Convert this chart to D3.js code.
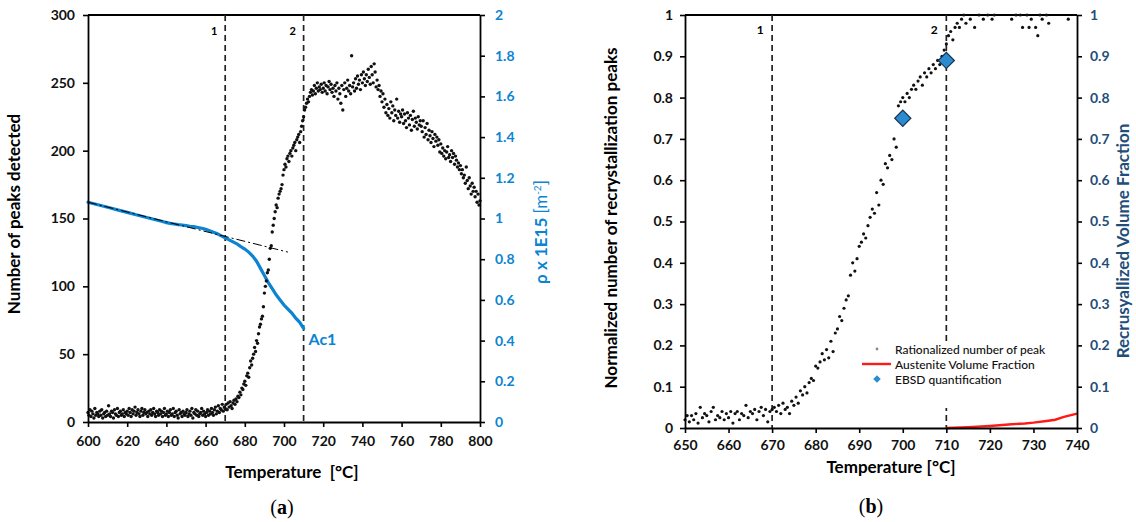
<!DOCTYPE html>
<html>
<head>
<meta charset="utf-8">
<script src="https://cdn.jsdelivr.net/npm/d3@7"></script>
<style>
  body { margin: 0; background: #fff; }
  text { font-family: Lato, "Open Sans", sans-serif; }
</style>
</head>
<body>
<div class="fig"></div>
<script>
// ---- panel (a) data ----
var peaksStart = 600, peaksStep = 0.5;
var peaksA = [
  7,5,9,4,8,6,3,10,5,7,6,4,8,5,9,3,6,7,4,8,
  5,12,6,4,8,7,3,9,6,5,10,4,7,8,5,6,9,4,7,6,
  8,5,10,7,4,9,6,8,11,5,7,9,6,4,8,10,5,7,9,6,
  7,4,8,6,9,5,7,10,6,4,8,7,5,9,6,8,4,7,10,5,
  6,8,4,7,9,5,6,10,4,7,8,5,3,9,6,7,4,8,6,5,
  7,9,4,6,8,5,10,3,7,6,9,5,8,4,6,7,10,5,8,6,
  4,7,9,5,8,6,10,7,5,9,11,6,8,12,7,10,9,13,8,11,
  10,13,9,14,11,15,12,10,14,16,13,17,15,19,18,22,20,25,24,28,
  30,27,34,36,33,40,45,42,47,50,55,52,60,58,65,70,72,76,78,85,
  95,100,104,110,112,120,128,130,140,145,150,155,160,158,165,168,170,172,175,182,
  186,190,188,194,196,192,198,200,196,202,204,206,200,208,210,212,206,214,218,222,
  225,230,232,235,238,236,240,243,245,241,244,248,242,246,250,244,247,245,249,243,
  246,250,244,248,242,247,251,245,249,243,246,240,248,244,250,238,246,242,235,248,
  230,245,250,240,246,252,244,248,242,270,247,250,244,253,246,255,249,252,245,256,
  250,258,253,248,256,251,260,254,249,262,256,250,264,258,247,252,245,248,240,244,
  236,242,232,238,228,234,226,231,224,236,228,233,222,230,226,238,224,229,221,227,
  225,230,220,227,222,217,228,224,219,226,215,223,229,218,224,221,216,225,219,222,
  218,214,222,210,217,212,220,208,215,211,206,214,209,203,212,207,210,204,208,199,
  205,198,202,196,200,194,199,203,195,197,192,200,195,198,190,196,193,188,191,186,
  189,183,186,180,182,176,188,178,172,180,174,168,176,170,173,166,170,162,168,160,
  163
];
var rhoTemp = [600,602,604,606,608,610,612,614,616,618,620,622,624,626,628,630,632,634,636,638,
  640,642,644,646,648,650,652,654,656,658,660,662,664,666,668,670,672,674,676,678,
  680,682,684,686,688,690,692,694,696,698,700,702,704,706,708,710];
var rhoA = [1.08,1.075,1.07,1.065,1.06,1.055,1.05,1.045,1.04,1.035,1.03,1.025,1.02,1.015,1.01,1.005,1.0,0.995,0.99,0.985,
  0.98,0.976,0.973,0.97,0.968,0.965,0.962,0.96,0.956,0.952,0.947,0.94,0.932,0.925,0.915,0.905,0.895,0.885,0.875,0.862,
  0.85,0.835,0.815,0.79,0.755,0.72,0.685,0.655,0.625,0.6,0.575,0.555,0.535,0.51,0.49,0.46];
var trendTemp = [600, 702];
var trendRho = [1.08, 0.835];
var xTicksA = [600,620,640,660,680,700,720,740,760,780,800];
var yTicksA = [0,50,100,150,200,250,300];
var rhoTicks = [0,0.2,0.4,0.6,0.8,1,1.2,1.4,1.6,1.8,2];

// ---- panel (b) data ----
var normStart = 650, normStep = 0.5;
var normB = [
  0.02,0.03,0.015,0.03,0.02,0.035,0.012,0.05,0.025,0.035,
  0.03,0.015,0.04,0.05,0.02,0.03,0.025,0.04,0.02,0.035,
  0.025,0.04,0.012,0.035,0.04,0.02,0.035,0.03,0.055,0.025,
  0.04,0.035,0.045,0.02,0.04,0.05,0.03,0.045,0.015,0.04,
  0.045,0.05,0.04,0.055,0.035,0.06,0.045,0.05,0.035,0.065,
  0.055,0.075,0.06,0.09,0.08,0.1,0.085,0.11,0.12,0.115,
  0.15,0.145,0.16,0.18,0.165,0.19,0.17,0.21,0.185,0.23,
  0.24,0.27,0.26,0.29,0.31,0.32,0.37,0.4,0.38,0.41,
  0.44,0.45,0.47,0.46,0.49,0.51,0.53,0.52,0.57,0.54,
  0.6,0.59,0.64,0.63,0.66,0.65,0.7,0.68,0.78,0.79,
  0.8,0.79,0.81,0.8,0.82,0.83,0.82,0.84,0.85,0.83,
  0.86,0.85,0.87,0.86,0.88,0.87,0.89,0.88,0.9,0.915,
  0.93,0.95,0.96,0.94,0.97,0.98,0.97,0.99,1.0,0.98,
  1.01,0.99,1.02,0.97,1.03,1.0,1.02,0.99,1.04,1.0,
  1.02,0.99,1.0,1.03,1.05,1.02,1.04,1.01,1.03,1.06,
  0.99,1.02,1.0,1.03,1.0,0.97,1.04,1.0,0.97,0.99,
  1.03,0.97,0.95,1.0,0.99,1.02,1.0,0.98,1.04,1.02,
  1.05,1.03,1.04,1.06,1.02,1.05,0.99,1.03,1.04,1.02,
  1.05
];
var austTemp = [710,715,720,725,728,730,733,735,737,740];
var austB = [0,0.002,0.005,0.009,0.011,0.013,0.017,0.02,0.027,0.035];
var ebsdTemp = [700,710];
var ebsdB = [0.75,0.89];
var xTicksB = [650,660,670,680,690,700,710,720,730,740];
var yTicksB = [0,0.1,0.2,0.3,0.4,0.5,0.6,0.7,0.8,0.9,1];
var markTemp = [670,710];
var markLabel = ["1","2"];
var legendB = ["Rationalized number of peak","Austenite Volume Fraction","EBSD quantification"];

var blue = "#0b84d2", navy = "#1f4e79";
var fmt = function(d){ return String(+d.toFixed(1)); };

var svg = d3.select('.fig').append('svg')
  .attr('width', 1136)
  .attr('height', 522);

function styleAxis(g, color) {
  g.select('.domain').attr('stroke', '#000').attr('stroke-width', 1.8);
  g.selectAll('.tick line').attr('stroke', '#000').attr('stroke-width', 1.6);
  g.selectAll('.tick text').attr('fill', color)
    .style('font-size', '14px').style('font-weight', '700');
}

// ================= panel (a) =================
var xA = d3.scaleLinear().domain([600, 800]).range([88, 480]);
var yA = d3.scaleLinear().domain([0, 300]).range([422, 15]);
var rA = d3.scaleLinear().domain([0, 2]).range([422, 15]);

var gA = svg.append('g');

gA.append('line')
  .attr('x1', xA(600)).attr('x2', xA(800))
  .attr('y1', yA(300)).attr('y2', yA(300))
  .attr('stroke', '#000').attr('stroke-width', 1.8);

gA.selectAll('.vmark').data(markTemp).enter()
  .append('line')
  .attr('x1', function(d){ return xA(d); }).attr('x2', function(d){ return xA(d); })
  .attr('y1', yA(300)).attr('y2', yA(0))
  .attr('stroke', '#222').attr('stroke-width', 1.7)
  .attr('stroke-dasharray', '6,4');

gA.selectAll('.vlab').data(markTemp).enter()
  .append('text')
  .attr('x', function(d){ return xA(d) - 11; })
  .attr('y', 35)
  .attr('text-anchor', 'middle')
  .style('font-size', '11px').style('font-weight', '700')
  .text(function(d, i){ return markLabel[i]; });

// density curve
gA.append('path')
  .datum(rhoTemp)
  .attr('d', d3.line()
    .x(function(d){ return xA(d); })
    .y(function(d, i){ return rA(rhoA[i]); }))
  .attr('fill', 'none')
  .attr('stroke', blue)
  .attr('stroke-width', 3.2)
  .attr('stroke-linecap', 'round');

// peaks scatter
gA.selectAll('.pk').data(peaksA).enter()
  .append('circle')
  .attr('cx', function(d, i){ return xA(peaksStart + i * peaksStep); })
  .attr('cy', function(d){ return yA(d); })
  .attr('r', 1.7)
  .attr('fill', '#111');

// trend line
gA.append('path')
  .datum(trendTemp)
  .attr('d', d3.line()
    .x(function(d){ return xA(d); })
    .y(function(d, i){ return rA(trendRho[i]); }))
  .attr('stroke', '#000')
  .attr('stroke-width', 1)
  .attr('stroke-dasharray', '9,3,2,3')
  .attr('fill', 'none');

gA.append('text')
  .attr('x', xA(712.5)).attr('y', 345)
  .attr('fill', blue)
  .style('font-size', '16px').style('font-weight', '700')
  .text('Ac1');

var axA = gA.append('g').attr('transform', 'translate(0,' + yA(0) + ')')
  .call(d3.axisBottom(xA).tickValues(xTicksA).tickSize(5).tickSizeOuter(0).tickPadding(9));
styleAxis(axA, '#111');
var ayA = gA.append('g').attr('transform', 'translate(' + xA(600) + ',0)')
  .call(d3.axisLeft(yA).tickValues(yTicksA).tickSize(5).tickSizeOuter(0).tickPadding(8));
styleAxis(ayA, '#111');
var arA = gA.append('g').attr('transform', 'translate(' + xA(800) + ',0)')
  .call(d3.axisRight(rA).tickValues(rhoTicks).tickFormat(fmt).tickSize(5).tickSizeOuter(0).tickPadding(10));
styleAxis(arA, blue);

gA.append('text')
  .attr('transform', 'translate(20,214) rotate(-90)')
  .attr('text-anchor', 'middle')
  .style('font-size', '17px').style('font-weight', '700')
  .text('Number of peaks detected');

var rt = gA.append('text')
  .attr('transform', 'translate(547,232) rotate(-90)')
  .attr('text-anchor', 'middle')
  .attr('fill', blue)
  .style('font-size', '17px').style('font-weight', '700');
rt.append('tspan').text('\u03c1  x 1E15 ');
rt.append('tspan').style('font-weight', '400').text('[m');
rt.append('tspan').style('font-weight', '400').style('font-size', '10px')
  .attr('dy', -6).text('-2');
rt.append('tspan').style('font-weight', '400').attr('dy', 6).text(']');

gA.append('text')
  .attr('x', 292).attr('y', 478)
  .attr('text-anchor', 'middle')
  .style('font-size', '17px').style('font-weight', '700')
  .style('white-space', 'pre')
  .text('Temperature  [\u00b0C]');

var capA = gA.append('text')
  .attr('x', 282).attr('y', 514)
  .attr('text-anchor', 'middle')
  .style('font-family', '"Liberation Serif", "DejaVu Serif", serif')
  .style('font-size', '20px');
capA.append('tspan').text('(');
capA.append('tspan').style('font-weight', '700').text('a');
capA.append('tspan').text(')');

// ================= panel (b) =================
var xB = d3.scaleLinear().domain([650, 740]).range([685, 1077]);
var yB = d3.scaleLinear().domain([0, 1]).range([428, 15]);

var gB = svg.append('g');

gB.append('line')
  .attr('x1', xB(650)).attr('x2', xB(740))
  .attr('y1', yB(1)).attr('y2', yB(1))
  .attr('stroke', '#000').attr('stroke-width', 1.8);

gB.selectAll('.vmark').data(markTemp).enter()
  .append('line')
  .attr('x1', function(d){ return xB(d); }).attr('x2', function(d){ return xB(d); })
  .attr('y1', yB(1)).attr('y2', yB(0))
  .attr('stroke', '#222').attr('stroke-width', 1.7)
  .attr('stroke-dasharray', '6,4');

gB.selectAll('.vlab').data(markTemp).enter()
  .append('text')
  .attr('x', function(d){ return xB(d) - 12; })
  .attr('y', 34)
  .attr('text-anchor', 'middle')
  .style('font-size', '12px').style('font-weight', '700')
  .text(function(d, i){ return markLabel[i]; });

// legend box hides the dashed line behind it
gB.append('rect')
  .attr('x', 858).attr('y', 342).attr('width', 194).attr('height', 66)
  .attr('fill', '#fff');

var normPts = normB.map(function(v, i){ return [normStart + i * normStep, v]; })
  .filter(function(p){ return p[1] <= 1; });

gB.selectAll('.nm').data(normPts).enter()
  .append('circle')
  .attr('cx', function(d){ return xB(d[0]); })
  .attr('cy', function(d){ return yB(d[1]); })
  .attr('r', 1.6)
  .attr('fill', '#111');

gB.append('path')
  .datum(austTemp)
  .attr('d', d3.line()
    .x(function(d){ return xB(d); })
    .y(function(d, i){ return yB(austB[i]); }))
  .attr('fill', 'none')
  .attr('stroke', '#ff1a1a')
  .attr('stroke-width', 2.4);

var diamond = d3.symbol().type(d3.symbolSquare);
gB.selectAll('.eb').data(ebsdTemp).enter()
  .append('path')
  .attr('d', diamond.size(130)())
  .attr('transform', function(d, i){
    return 'translate(' + xB(d) + ',' + yB(ebsdB[i]) + ') rotate(45)'; })
  .attr('fill', '#2a8bd0')
  .attr('stroke', '#16324f')
  .attr('stroke-width', 1.2);

var axB = gB.append('g').attr('transform', 'translate(0,' + yB(0) + ')')
  .call(d3.axisBottom(xB).tickValues(xTicksB).tickSize(5).tickSizeOuter(0).tickPadding(7));
styleAxis(axB, '#111');
var ayB = gB.append('g').attr('transform', 'translate(' + xB(650) + ',0)')
  .call(d3.axisLeft(yB).tickValues(yTicksB).tickFormat(fmt).tickSize(5).tickSizeOuter(0).tickPadding(7));
styleAxis(ayB, '#111');
var arB = gB.append('g').attr('transform', 'translate(' + xB(740) + ',0)')
  .call(d3.axisRight(yB).tickValues(yTicksB).tickFormat(fmt).tickSize(5).tickSizeOuter(0).tickPadding(8));
styleAxis(arB, navy);

// legend
var lg = gB.append('g').attr('transform', 'translate(876,349)');
lg.append('circle').attr('cx', 1).attr('cy', 0).attr('r', 1.4).attr('fill', '#888');
lg.append('line').attr('x1', -14).attr('x2', 15).attr('y1', 15).attr('y2', 15)
  .attr('stroke', '#ff1a1a').attr('stroke-width', 2.4);
lg.append('path').attr('d', diamond.size(28)())
  .attr('transform', 'translate(1,30) rotate(45)')
  .attr('fill', '#2a8bd0');
lg.selectAll('.lt').data(legendB).enter()
  .append('text')
  .attr('x', 19)
  .attr('y', function(d, i){ return i * 15 + 4.5; })
  .style('font-size', '12px').style('font-weight', '500')
  .attr('fill', '#111')
  .text(function(d){ return d; });

gB.append('text')
  .attr('transform', 'translate(617,218) rotate(-90)')
  .attr('text-anchor', 'middle')
  .style('font-size', '17px').style('font-weight', '700')
  .text('Normalized number of recrystallization peaks');

gB.append('text')
  .attr('transform', 'translate(1129,241) rotate(-90)')
  .attr('text-anchor', 'middle')
  .attr('fill', navy)
  .style('font-size', '17px').style('font-weight', '700')
  .text('Recrusyallized Volume Fraction');

gB.append('text')
  .attr('x', 891).attr('y', 473)
  .attr('text-anchor', 'middle')
  .style('font-size', '17px').style('font-weight', '700')
  .text('Temperature [\u00b0C]');

var capB = gB.append('text')
  .attr('x', 871).attr('y', 513)
  .attr('text-anchor', 'middle')
  .style('font-family', '"Liberation Serif", "DejaVu Serif", serif')
  .style('font-size', '20px');
capB.append('tspan').text('(');
capB.append('tspan').style('font-weight', '700').text('b');
capB.append('tspan').text(')');
</script>
</body>
</html>
